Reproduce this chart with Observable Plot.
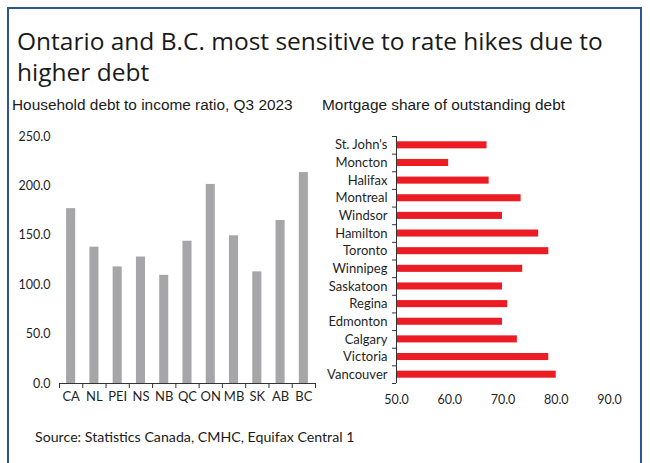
<!DOCTYPE html>
<html>
<head>
<meta charset="utf-8">
<script src="https://cdn.jsdelivr.net/npm/d3@7"></script>
<script src="https://cdn.jsdelivr.net/npm/@observablehq/plot@0.6"></script>
<style>
  html, body { margin: 0; padding: 0; background: #fff; }
  #wrap { position: relative; width: 650px; height: 463px; overflow: hidden; background: #fff; }
  #frame { position: absolute; left: 7px; top: 7px; width: 631px; height: 520px; border: 2px solid #2E5597; }
  #title { position: absolute; left: 17px; top: 25px; font-family: "Open Sans", sans-serif; font-size: 24.5px; line-height: 31px; color: #1a1a1a; font-weight: 400; }
  .sub { position: absolute; top: 96px; font-family: "Liberation Sans", Arial, sans-serif; font-size: 15.4px; color: #1a1a1a; white-space: nowrap; }
  #source { position: absolute; left: 35px; top: 428px; font-family: Lato, sans-serif; font-size: 14.2px; color: #1a1a1a; white-space: nowrap; }
  #left { position: absolute; left: 0; top: 120px; }
  #right { position: absolute; left: 320px; top: 120px; }
  svg text { font-family: Lato, sans-serif; }
</style>
</head>
<body>
<div id="wrap">
  <div id="frame"></div>
  <div id="title">Ontario and B.C. most sensitive to rate hikes due to<br>higher debt</div>
  <div class="sub" style="left:12px">Household debt to income ratio, Q3 2023</div>
  <div class="sub" style="left:322px">Mortgage share of outstanding debt</div>
  <div id="left"></div>
  <div id="right"></div>
  <div id="source">Source: Statistics Canada, CMHC, Equifax Central 1</div>
</div>
<script>
// Household debt to income ratio, Q3 2023
const provinces = ["CA", "NL", "PEI", "NS", "NB", "QC", "ON", "MB", "SK", "AB", "BC"];
const debtRatio = [177, 138, 118, 128, 109.5, 144, 201.5, 149.5, 113, 165, 213.5];
const debtTicks = [0, 50, 100, 150, 200, 250];

// Mortgage share of outstanding debt (%)
const cities = ["St. John's", "Moncton", "Halifax", "Montreal", "Windsor", "Hamilton", "Toronto",
  "Winnipeg", "Saskatoon", "Regina", "Edmonton", "Calgary", "Victoria", "Vancouver"];
const mortgageShare = [67.0, 59.8, 67.4, 73.4, 69.9, 76.7, 78.6, 73.7, 69.9, 70.9, 69.9, 72.7, 78.6, 80.0];
const shareTicks = [50, 60, 70, 80, 90];

const grey = "#A6A6A8";
const red = "#EC1C24";
const ink = "#1f1f1f";
const fmt = d3.format(".1f");

const leftData = provinces.map((p, i) => ({p, v: debtRatio[i]}));
const rightData = cities.map((c, i) => ({c, v: mortgageShare[i]}));

// Left chart
const LW = 320, LH = 300, lMl = 59, lMr = 5, lMt = 16, lMb = 37;
const lStep = (LW - lMl - lMr) / provinces.length;
const left = Plot.plot({
  width: LW, height: LH,
  marginLeft: lMl, marginRight: lMr, marginTop: lMt, marginBottom: lMb,
  style: {fontFamily: "Lato, sans-serif", color: ink, background: "transparent"},
  x: {domain: provinces, paddingInner: 0.61, paddingOuter: 0.305, round: false, label: null},
  y: {domain: [debtTicks[0], debtTicks[debtTicks.length - 1]], label: null},
  marks: [
    Plot.barY(leftData, {x: "p", y: "v", fill: grey}),
    Plot.ruleY([0], {stroke: "#333", strokeWidth: 1}),
    Plot.axisY({ticks: debtTicks, tickFormat: fmt, tickSize: 0, tickPadding: 9, fontSize: 12.5, label: null}),
    Plot.axisX({tickSize: 0, tickPadding: 8, fontSize: 13, label: null}),
    Plot.axisX({ticks: provinces, tickSize: 5, tickFormat: () => "", dx: -lStep / 2, stroke: "#333", label: null}),
    Plot.axisX({ticks: [provinces[provinces.length - 1]], tickSize: 5, tickFormat: () => "", dx: lStep / 2, stroke: "#333", label: null})
  ]
});
document.getElementById("left").append(left);

// Right chart
const RW = 320, RH = 300, rMl = 76, rMr = 31, rMt = 16, rMb = 37;
const rStep = (RH - rMt - rMb) / cities.length;
const xMin = shareTicks[0];
const right = Plot.plot({
  width: RW, height: RH,
  marginLeft: rMl, marginRight: rMr, marginTop: rMt, marginBottom: rMb,
  style: {fontFamily: "Lato, sans-serif", color: ink, background: "transparent"},
  x: {domain: [xMin, shareTicks[shareTicks.length - 1]], label: null},
  y: {domain: cities, paddingInner: 0.6, paddingOuter: 0.3, round: false, label: null},
  marks: [
    Plot.barX(rightData, {x1: () => xMin, x2: "v", y: "c", fill: red}),
    Plot.ruleX([xMin], {stroke: "#333", strokeWidth: 1}),
    Plot.axisY({tickSize: 0, tickPadding: 9, fontSize: 13, label: null}),
    Plot.axisY({ticks: cities, tickSize: 4, tickFormat: () => "", dy: -rStep / 2, stroke: "#333", label: null}),
    Plot.axisY({ticks: [cities[cities.length - 1]], tickSize: 4, tickFormat: () => "", dy: rStep / 2, stroke: "#333", label: null}),
    Plot.axisX({ticks: shareTicks, tickFormat: fmt, tickSize: 0, tickPadding: 12, fontSize: 12.5, label: null})
  ]
});
document.getElementById("right").append(right);
</script>
</body>
</html>
